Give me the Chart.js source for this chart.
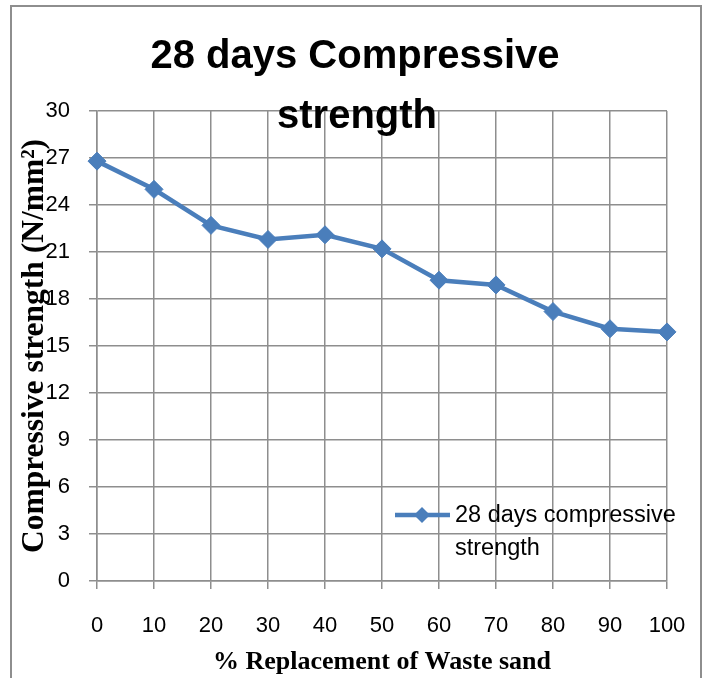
<!DOCTYPE html>
<html>
<head>
<meta charset="utf-8">
<script src="https://cdn.jsdelivr.net/npm/chart.js@4/dist/chart.umd.min.js"></script>
<style>
  html, body { margin: 0; padding: 0; background: #fff; }
  #wrap { width: 710px; height: 678px; }
</style>
</head>
<body>
<div id="wrap"><canvas id="strengthChart" width="710" height="678"></canvas></div>
<script>
// data
const replacementPct = ['0', '10', '20', '30', '40', '50', '60', '70', '80', '90', '100'];
const strength28Days = [26.8, 25.0, 22.7, 21.8, 22.1, 21.2, 19.2, 18.9, 17.2, 16.1, 15.9];
const yTickValues = [0, 3, 6, 9, 12, 15, 18, 21, 24, 27, 30];
const seriesName = ['28 days compressive', 'strength'];
const chartTitle = ['28 days Compressive', 'strength'];

const lineBlue = '#4a7ebb';
const gridGray = '#8e8e8e';

// frame, title and legend are drawn by hand (title overlaps the plot like in the original)
const frameAndText = {
    id: 'frameAndText',
    beforeDraw(chart) {
        const ctx = chart.ctx;
        ctx.save();
        ctx.strokeStyle = gridGray;
        ctx.lineWidth = 2;
        ctx.strokeRect(11, 6, 690, 700);
        ctx.restore();
    },
    afterDraw(chart) {
        const ctx = chart.ctx;
        ctx.save();
        // title
        ctx.fillStyle = '#000';
        ctx.textAlign = 'center';
        ctx.textBaseline = 'alphabetic';
        ctx.font = 'bold 40px "Liberation Sans", Arial, sans-serif';
        ctx.fillText(chartTitle[0], 355, 68);
        ctx.fillText(chartTitle[1], 357, 128);

        // legend
        const ds = chart.data.datasets[0];
        ctx.strokeStyle = ds.borderColor;
        ctx.lineWidth = ds.borderWidth;
        ctx.beginPath();
        ctx.moveTo(395, 515);
        ctx.lineTo(450, 515);
        ctx.stroke();
        const r = 8;
        ctx.fillStyle = ds.pointBackgroundColor;
        ctx.beginPath();
        ctx.moveTo(422, 515 - r);
        ctx.lineTo(422 + r, 515);
        ctx.lineTo(422, 515 + r);
        ctx.lineTo(422 - r, 515);
        ctx.closePath();
        ctx.fill();

        ctx.fillStyle = '#000';
        ctx.textAlign = 'left';
        ctx.textBaseline = 'middle';
        ctx.font = '23.5px "Liberation Sans", Arial, sans-serif';
        ctx.fillText(seriesName[0], 455, 516);
        ctx.fillText(seriesName[1], 455, 549);
        ctx.restore();
    }
};

document.addEventListener('DOMContentLoaded', function() {
    const ctx = document.getElementById('strengthChart');

    new Chart(ctx.getContext('2d'), {
        type: 'line',
        data: {
            labels: replacementPct,
            datasets: [{
                label: seriesName.join(' '),
                data: strength28Days,
                borderColor: lineBlue,
                backgroundColor: lineBlue,
                borderWidth: 4.5,
                pointStyle: 'rectRot',
                pointRadius: 9,
                pointBackgroundColor: lineBlue,
                pointBorderColor: lineBlue,
                pointBorderWidth: 1,
                tension: 0
            }]
        },
        options: {
            responsive: false,
            animation: false,
            layout: {
                padding: { top: 111, right: 43, left: 0, bottom: 0 }
            },
            plugins: {
                legend: { display: false },
                title: { display: false },
                tooltip: { enabled: false }
            },
            scales: {
                x: {
                    type: 'category',
                    offset: false,
                    grid: {
                        color: gridGray,
                        lineWidth: 1.5,
                        tickLength: 8,
                        offset: false
                    },
                    border: { color: gridGray, width: 1.5 },
                    ticks: {
                        color: '#000',
                        font: { family: '"Liberation Sans", Arial, sans-serif', size: 22 },
                        padding: 24,
                        maxRotation: 0,
                        autoSkip: false
                    },
                    title: {
                        display: true,
                        text: '% Replacement of Waste sand',
                        color: '#000',
                        font: { family: '"Liberation Serif", "Times New Roman", serif', size: 26, weight: 'bold' },
                        padding: { top: 0, bottom: 0 }
                    },
                    afterFit: function(scale) { scale.height = 97; }
                },
                y: {
                    min: 0,
                    max: 30,
                    grid: {
                        color: gridGray,
                        lineWidth: 1.5,
                        tickLength: 8
                    },
                    border: { color: gridGray, width: 1.5 },
                    ticks: {
                        color: '#000',
                        font: { family: '"Liberation Sans", Arial, sans-serif', size: 22 },
                        padding: 19
                    },
                    afterBuildTicks: function(scale) {
                        scale.ticks = yTickValues.map(v => ({ value: v }));
                    },
                    title: {
                        display: true,
                        text: 'Compressive strength (N/mm²)',
                        color: '#000',
                        font: { family: '"Liberation Serif", "Times New Roman", serif', size: 31.5, weight: 'bold' },
                        padding: { top: 16, bottom: 0 }
                    },
                    afterFit: function(scale) { scale.width = 97; }
                }
            }
        },
        plugins: [frameAndText]
    });
});
</script>
</body>
</html>
